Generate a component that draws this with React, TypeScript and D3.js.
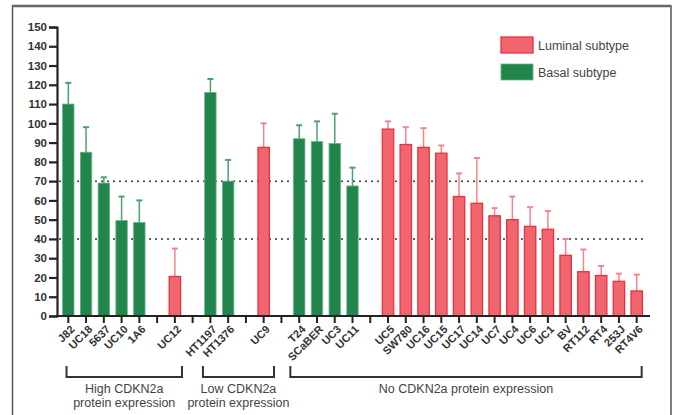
import { useEffect, useRef } from 'react';
import * as d3 from 'd3';

// cell lines in slot order, "" = empty slot
const cellLines = ["J82", "UC18", "5637", "UC10", "1A6", "", "UC12", "", "HT1197", "HT1376", "", "UC9", "",
  "T24", "SCaBER", "UC3", "UC11", "", "UC5", "SW780", "UC16", "UC15", "UC17", "UC14", "UC7", "UC4",
  "UC6", "UC1", "BV", "RT112", "RT4", "253J", "RT4V6"];
const means = [110, 85, 69, 49.5, 48.5, null, 20.5, null, 116, 70, null, 87.5, null,
  92, 90.5, 89.5, 67.5, null, 97, 89, 87.5, 84.5, 62, 58.5, 52, 50,
  46.5, 45, 31.5, 23, 21, 18, 13];
const upperErr = [121, 98, 72, 62, 60, null, 35, null, 123, 81, null, 100, null,
  99, 101, 105, 77, null, 101, 98, 97.5, 88.5, 74, 82, 56, 62,
  56.5, 54.5, 40, 34.5, 26, 22, 21.5];
const subtype = ["B", "B", "B", "B", "B", "", "L", "", "B", "B", "", "L", "",
  "B", "B", "B", "B", "", "L", "L", "L", "L", "L", "L", "L", "L",
  "L", "L", "L", "L", "L", "L", "L"];
const yTicks = d3.range(0, 151, 10);
const refLines = [70, 40];
const groups = [
  { lines: ["High CDKN2a", "protein expression"], from: -0.1, to: 6.4 },
  { lines: ["Low CDKN2a", "protein expression"], from: 7.58, to: 11.58 },
  { lines: ["No CDKN2a protein expression"], from: 12.5, to: 32.28 },
];
const legend = [
  { label: "Luminal subtype", key: "L" },
  { label: "Basal subtype", key: "B" },
];

const colors: Record<string, { fill: string; stroke: string; err: string }> = {
  L: { fill: "#f0656e", stroke: "#e8313b", err: "#f3858c" },
  B: { fill: "#22854b", stroke: "#5fb483", err: "#4aa26f" },
};

export default function App() {
  const ref = useRef<SVGSVGElement>(null);

  useEffect(() => {
    if (!ref.current) return;
    const svg = d3.select(ref.current);
    svg.selectAll("*").remove();
    const font = "'Liberation Sans', Arial, sans-serif";

    const x = d3.scaleLinear().domain([0, cellLines.length - 1]).range([68.3, 636.7]);
    const y = d3.scaleLinear().domain([0, 150]).range([316, 27]);
    const step = x(1) - x(0);
    const bw = step * 0.64;

    // frame
    svg.append("path")
      .attr("d", "M12.5,415 V6 H671 V415")
      .attr("fill", "none").attr("stroke", "#555").attr("stroke-width", 1.5);
    svg.append("line").attr("x1", 12).attr("x2", 671).attr("y1", 6).attr("y2", 6)
      .attr("stroke", "#666").attr("stroke-width", 2.5);

    // reference dotted lines
    svg.selectAll("line.ref").data(refLines).enter().append("line")
      .attr("class", "ref")
      .attr("x1", 60).attr("x2", 645)
      .attr("y1", d => y(d)).attr("y2", d => y(d))
      .attr("stroke", "#333").attr("stroke-width", 2)
      .attr("stroke-linecap", "round").attr("stroke-dasharray", "0,6");

    const idx = d3.range(cellLines.length).filter(i => means[i] != null);

    // error bars
    const eg = svg.append("g");
    idx.forEach(i => {
      const c = colors[subtype[i]];
      eg.append("line").attr("x1", x(i)).attr("x2", x(i))
        .attr("y1", y(means[i] as number)).attr("y2", y(upperErr[i] as number))
        .attr("stroke", c.err).attr("stroke-width", 1.5);
      eg.append("line").attr("x1", x(i) - 3).attr("x2", x(i) + 3)
        .attr("y1", y(upperErr[i] as number)).attr("y2", y(upperErr[i] as number))
        .attr("stroke", c.err).attr("stroke-width", 2);
    });

    // bars
    svg.selectAll("rect.bar").data(idx).enter().append("rect")
      .attr("class", "bar")
      .attr("x", i => x(i) - bw / 2)
      .attr("y", i => y(means[i] as number))
      .attr("width", bw)
      .attr("height", i => y(0) - y(means[i] as number))
      .attr("fill", i => colors[subtype[i]].fill)
      .attr("stroke", i => colors[subtype[i]].stroke)
      .attr("stroke-width", i => subtype[i] === "L" ? 1.3 : 0.8);

    // y axis
    const ya = svg.append("g").attr("transform", "translate(57,0)")
      .call(d3.axisLeft(y).tickValues(yTicks).tickSize(8).tickPadding(2));
    ya.select(".domain").attr("stroke", "#222").attr("stroke-width", 2.2);
    ya.selectAll(".tick line").attr("stroke", "#222").attr("stroke-width", 2.2);
    ya.selectAll(".tick text").attr("font-family", font).attr("font-size", 11.5)
      .attr("font-weight", "bold").attr("fill", "#333");

    // x axis
    svg.append("line").attr("x1", 56).attr("x2", 650).attr("y1", y(0)).attr("y2", y(0))
      .attr("stroke", "#222").attr("stroke-width", 2.2);
    const xg = svg.append("g");
    xg.selectAll("line").data(d3.range(cellLines.length)).enter().append("line")
      .attr("x1", i => x(i)).attr("x2", i => x(i))
      .attr("y1", y(0)).attr("y2", y(0) + 7)
      .attr("stroke", "#222").attr("stroke-width", 2);
    xg.selectAll("text").data(d3.range(cellLines.length).filter(i => cellLines[i] !== "")).enter()
      .append("text")
      .attr("transform", i => `translate(${x(i) + 7},${y(0) + 14}) rotate(-45)`)
      .attr("text-anchor", "end")
      .attr("font-family", font).attr("font-size", 11).attr("font-weight", "bold")
      .attr("fill", "#333")
      .text(i => cellLines[i]);

    // group brackets
    const bg = svg.append("g");
    groups.forEach(g => {
      const x0 = x(g.from), x1 = x(g.to);
      bg.append("path")
        .attr("d", `M${x0},366 V377 H${x1} V366`)
        .attr("fill", "none").attr("stroke", "#333").attr("stroke-width", 2);
      g.lines.forEach((t, k) => {
        bg.append("text")
          .attr("x", (x0 + x1) / 2).attr("y", 393 + k * 13.5)
          .attr("text-anchor", "middle")
          .attr("font-family", font).attr("font-size", 12.5).attr("fill", "#444")
          .text(t);
      });
    });

    // legend
    const lg = svg.append("g");
    legend.forEach((d, k) => {
      const c = colors[d.key];
      lg.append("rect")
        .attr("x", 501).attr("y", 37 + k * 27).attr("width", 32).attr("height", 16)
        .attr("fill", c.fill).attr("stroke", c.stroke).attr("stroke-width", d.key === "L" ? 1.3 : 0.8);
      lg.append("text")
        .attr("x", 538).attr("y", 50 + k * 27)
        .attr("font-family", font).attr("font-size", 12.5).attr("fill", "#444")
        .text(d.label);
    });
  }, []);

  return (
    <svg ref={ref} width={675} height={415}
      style={{ position: "absolute", left: 0, top: 0, background: "#fff" }} />
  );
}
